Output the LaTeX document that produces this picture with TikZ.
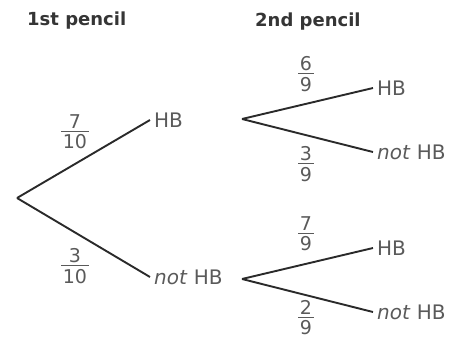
\documentclass[tikz,border=0pt]{standalone}
\usepackage{fontspec}
\setmainfont{DejaVu Sans}
\definecolor{txt}{HTML}{5A5A5A}
\definecolor{hdr}{HTML}{353535}
\definecolor{ln}{HTML}{2A2A2A}
\newcommand\myfr[2]{\vbox{\halign{\hfil\kern1.5pt##\kern1.5pt\hfil\cr #1\cr\noalign{\kern2pt\hrule height 1.3pt\kern2.5pt}#2\cr}}}
\begin{document}
\begin{tikzpicture}[x=1pt,y=-1pt,
  lbl/.style={anchor=west,inner xsep=4pt,inner ysep=0pt,text=txt,font=\fontsize{20}{22}\selectfont},
  frac/.style={inner sep=0pt,text=txt,font=\fontsize{19}{22}\selectfont},
  head/.style={anchor=west,inner sep=0pt,text=hdr,font=\fontsize{18}{20}\selectfont\bfseries},
  br/.style={draw=ln,line width=1.9pt}]
\useasboundingbox (0,0) rectangle (459,346);
\node[head] (h1) at (27,21) {1st pencil};
\node[head] (h2) at (255,22) {2nd pencil};
\coordinate (r) at (17,198);
\node[lbl] (a1) at (150,120) {HB};
\node[lbl] (a2) at (150,277) {\textit{not} HB};
\draw[br] (r) -- (a1.west);
\draw[br] (r) -- (a2.west);
\node[frac] (f1) at (75,132) {\myfr{7}{10}};
\node[frac] (f2) at (75,266) {\myfr{3}{10}};
\coordinate (s1) at (242,119);
\coordinate (s2) at (242,279);
\node[lbl] (b1) at (373,88) {HB};
\node[lbl] (b2) at (373,152) {\textit{not} HB};
\node[lbl] (b3) at (373,248) {HB};
\node[lbl] (b4) at (373,312) {\textit{not} HB};
\draw[br] (s1) -- (b1.west);
\draw[br] (s1) -- (b2.west);
\draw[br] (s2) -- (b3.west);
\draw[br] (s2) -- (b4.west);
\node[frac] (g1) at (306,74) {\myfr{6}{9}};
\node[frac] (g2) at (306,164) {\myfr{3}{9}};
\node[frac] (g3) at (306,234) {\myfr{7}{9}};
\node[frac] (g4) at (306,318) {\myfr{2}{9}};
\end{tikzpicture}
\end{document}
